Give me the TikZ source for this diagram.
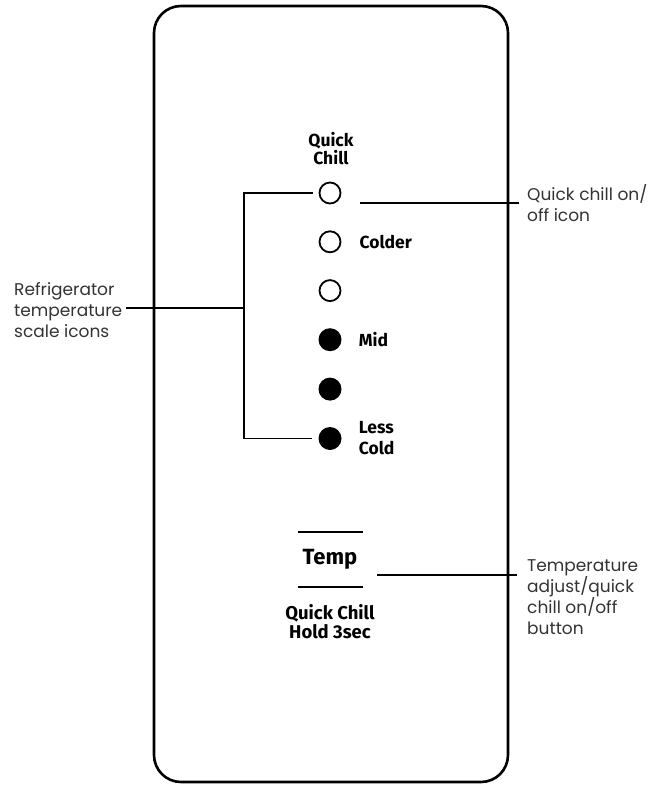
\documentclass[tikz,border=0pt]{standalone}
\usepackage{fontspec}
\setmainfont{Poppins}
\newfontfamily\panelfont{Fira Sans}
\usetikzlibrary{positioning}

\begin{document}
\begin{tikzpicture}[
  x=1pt, y=-1pt,
  node distance=26pt,
  panel/.style={draw, line width=2.6pt, rounded corners=27pt},
  iconoff/.style={circle, draw, line width=1.8pt, minimum size=21pt, inner sep=0pt},
  iconon/.style={circle, fill, minimum size=23pt, inner sep=0pt},
  tag/.style={font=\panelfont\bfseries\fontsize{17.5}{19}\selectfont, align=left, anchor=west, inner sep=0pt},
  callout/.style={font=\fontsize{17}{21}\selectfont, align=left, anchor=west, inner sep=0pt, text=black!80},
  leader/.style={line width=1.1pt},
  bar/.style={line width=2pt}
]
\useasboundingbox (0,0) rectangle (656,786);
\draw[panel] (154,6) rectangle (508,782);

% scale icons
\node[iconoff] (qc) at (330,193) {};
\node[iconoff, below=of qc] (colder) {};
\node[iconoff, below=of colder] (cool) {};
\node[iconon, below=of cool] (mid) {};
\node[iconon, below=of mid] (warm) {};
\node[iconon, below=of warm] (lesscold) {};

\node[tag, align=center, anchor=center, font=\panelfont\bfseries\fontsize{17.5}{18}\selectfont] (qctitle) at (331,149) {Quick\\Chill};
\node[tag, right=18pt of colder] (colderlbl) {Colder};
\node[tag, right=17pt of mid] (midlbl) {Mid};
\node[tag, right=17pt of lesscold, font=\panelfont\bfseries\fontsize{17.5}{21}\selectfont] (lesslbl) {Less\\Cold};

% temp button
\node[font=\panelfont\bfseries\fontsize{22}{24}\selectfont, inner sep=0pt] (temp) at (330,559) {Temp};
\draw[bar] (298,532) -- (363,532);
\draw[bar] (298,587) -- (363,587);
\node[tag, align=center, anchor=center, font=\panelfont\bfseries\fontsize{18.5}{19}\selectfont] (hold) at (330,622) {Quick Chill\\Hold 3sec};

% callouts
\node[callout] (scalelbl) at (14,310) {Refrigerator\\temperature\\scale icons};
\node[callout] (qclbl) at (527,203) {Quick chill on/\\off icon};
\node[callout] (templbl) at (527,597) {Temperature\\adjust/quick\\chill on/off\\button};

\coordinate (brk) at (244,308);
\coordinate (qcend) at (360,203);
\coordinate (tempend) at (377,575);
\draw[leader] ([xshift=-6pt]qc.west) -- (qc.west -| brk) -- (lesscold.west -| brk) -- ([xshift=-6pt]lesscold.west);
\draw[leader] ([xshift=4pt]scalelbl.east |- brk) -- (brk);
\draw[leader] (qcend) -- ([xshift=-8pt]qclbl.west |- qcend);
\draw[leader] (tempend) -- ([xshift=-10pt]templbl.west |- tempend);
\end{tikzpicture}
\end{document}
